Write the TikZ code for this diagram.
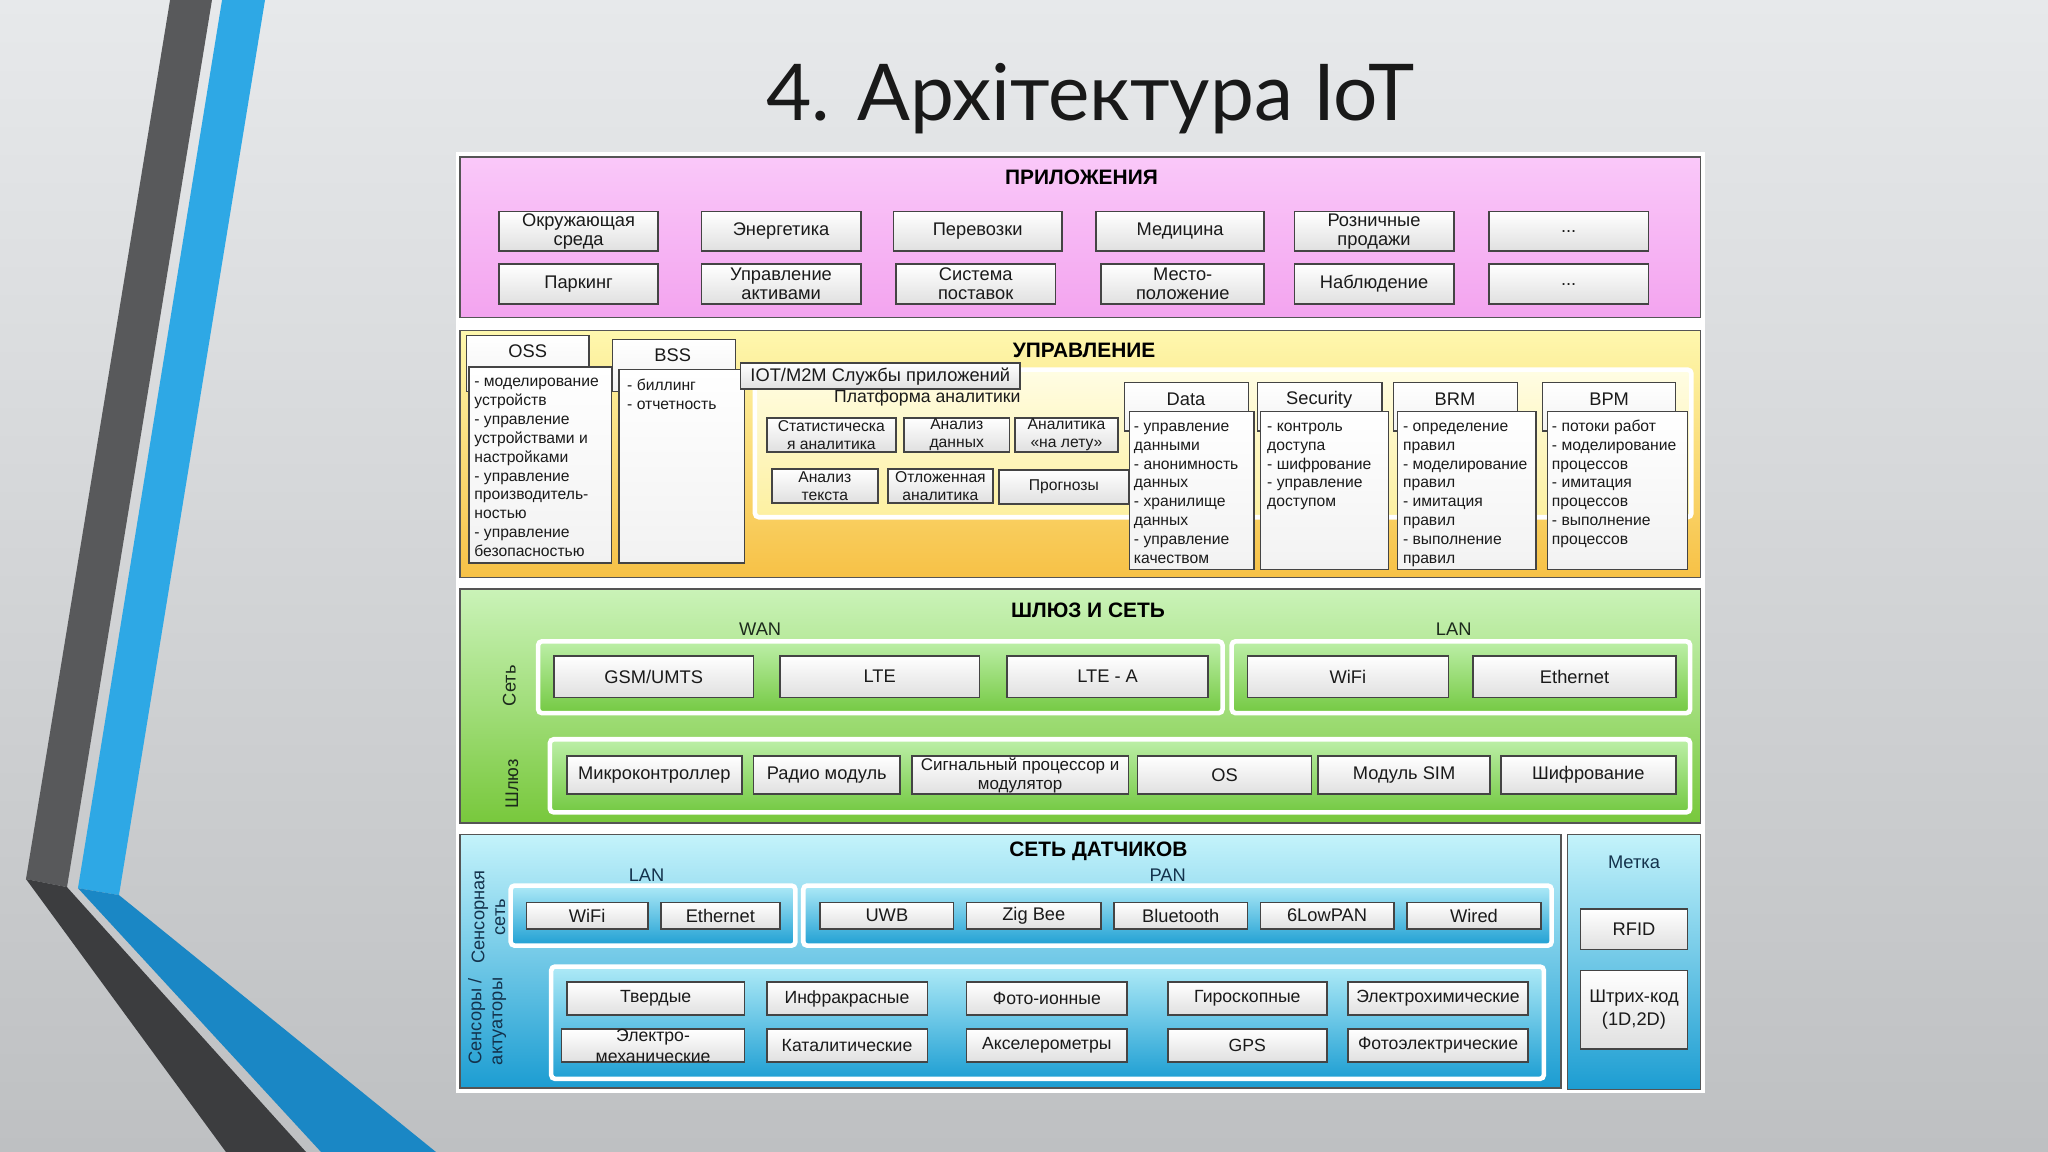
\documentclass[tikz,border=0pt]{standalone}
\usepackage{fontspec}
\setmainfont{Liberation Sans}
\newfontfamily\titlef{Lato}
\definecolor{bgT}{HTML}{E7E9EB}
\definecolor{bgB}{HTML}{BEC0C2}
\definecolor{dkU}{HTML}{58595B}
\definecolor{dkL}{HTML}{3C3D3F}
\definecolor{blU}{HTML}{2EA8E5}
\definecolor{blL}{HTML}{1A87C5}
\definecolor{txt}{HTML}{1A1A1A}
\definecolor{secb}{HTML}{555555}
\definecolor{boxb}{HTML}{444444}
\definecolor{boxbot}{HTML}{E0E0E0}
\definecolor{tabbot}{HTML}{F2F2F2}
\definecolor{pinkT}{HTML}{FAC8F9}
\definecolor{pinkB}{HTML}{F3A4EF}
\definecolor{yelT}{HTML}{FEF8AE}
\definecolor{yelM}{HTML}{FCE57E}
\definecolor{yelB}{HTML}{F7C146}
\definecolor{platT}{HTML}{FFFDE4}
\definecolor{platB}{HTML}{FDF0A0}
\definecolor{grnT}{HTML}{CAF3B8}
\definecolor{grnB}{HTML}{78C83C}
\definecolor{gfT}{HTML}{BDEFA8}
\definecolor{gfB}{HTML}{74C942}
\definecolor{bluT}{HTML}{C4F3FB}
\definecolor{bluB}{HTML}{1C9DD2}
\definecolor{bfT}{HTML}{AEEAF7}
\definecolor{bfB}{HTML}{1F9FD3}
\definecolor{gtxt}{HTML}{1C2A1C}
\definecolor{btxt}{HTML}{14324C}
\tikzset{
  sec/.style={draw=secb, line width=1.2pt},
  bx/.style={draw=boxb, line width=1.3pt, top color=white, bottom color=boxbot},
  frm/.style={draw=white, line width=3.5pt, rounded corners=3pt},
  tabb/.style={draw=boxb, line width=1pt, top color=white, bottom color=tabbot},
  lbl/.style={font=\fontsize{14}{14.5}\selectfont, align=center, inner sep=0pt, text=txt},
  hdr/.style={font=\bfseries\fontsize{16}{18}\selectfont, inner sep=0pt, text=black},
  sublbl/.style={font=\fontsize{14}{16}\selectfont, inner sep=0pt, text=gtxt},
  bsub/.style={font=\fontsize{14}{16}\selectfont, inner sep=0pt, text=btxt, align=center},
  lst/.style={font=\fontsize{12}{14.4}\selectfont, inner sep=0pt, anchor=north west, align=left, text=txt},
  tabt/.style={font=\fontsize{14}{16}\selectfont, inner sep=0pt, text=txt},
}
\newcommand\rbox[6][]{\node[inner sep=0pt,outer sep=0pt,#1,minimum width={#5-#3},minimum height={#6-#4}] (#2) at ({(#3+#5)/2},{(#4+#6)/2}) {};}
\newcommand\bx[7][]{\rbox[bx,#1]{#2}{#3}{#4}{#5}{#6}\node[lbl] (#2t) at (#2.center) {#7};}
\begin{document}
\begin{tikzpicture}[x=1pt,y=-1pt]
\useasboundingbox (0,0) rectangle (1568,882);
\fill[top color=bgT, bottom color=bgB] (0,0) rectangle (1568,882);
% decoration
\fill[dkU] (130.2,0) -- (162.3,0) -- (51.3,679.2) -- (19.9,673) -- cycle;
\fill[dkL] (19.9,673) -- (51.3,679.2) -- (234.3,882) -- (173,882) -- cycle;
\fill[blU] (170,0) -- (202.9,0) -- (91.1,685.3) -- (59.7,680) -- cycle;
\fill[blL] (59.7,680) -- (91.1,685.3) -- (333.8,882) -- (245.8,882) -- cycle;
% title
\node[font=\titlef\fontsize{60}{68}\selectfont, anchor=base, inner sep=0pt, text=black!90] (title) at (835,92) {4. Архітектура IoT};
% diagram background
\fill[white] (349,116) rectangle (1305,837);
% ===== ПРИЛОЖЕНИЯ
\rbox[sec, top color=pinkT, bottom color=pinkB]{app}{352}{120}{1302}{243}
\node[hdr] (appH) at (828,136) {ПРИЛОЖЕНИЯ};
\bx{a1}{382}{162}{504}{192}{Окружающая\\среда}
\bx{a2}{537}{162}{659}{192}{Энергетика}
\bx{a3}{684}{162}{813}{192}{Перевозки}
\bx{a4}{839}{162}{968}{192}{Медицина}
\bx{a5}{991}{162}{1113}{192}{Розничные\\продажи}
\bx{a6}{1140}{162}{1262}{192}{...}
\bx{b1}{382}{202}{504}{233}{Паркинг}
\bx{b2}{537}{202}{659}{233}{Управление\\активами}
\bx{b3}{686}{202}{808}{233}{Система\\поставок}
\bx{b4}{843}{202}{968}{233}{Место-\\положение}
\bx{b5}{991}{202}{1113}{233}{Наблюдение}
\bx{b6}{1140}{202}{1262}{233}{...}
% ===== УПРАВЛЕНИЕ
\rbox[sec, top color=yelT, middle color=yelM, bottom color=yelB]{mgmt}{352}{253}{1302}{442}
\rbox[frm, top color=platT, bottom color=platB]{plat}{578}{283}{1295}{396}
\node[hdr] (mgH) at (830,268) {УПРАВЛЕНИЕ};
% OSS
\rbox[tabb]{ossH}{357}{257}{451}{300}
\node[tabt] (ossHt) at (404,269) {OSS};
\rbox[tabb]{ossC}{359}{281}{468}{431}
\node[lst] (ossL) at (363,286) {\strut- моделирование\\устройств\\- управление\\устройствами и\\настройками\\- управление\\производитель-\\ностью\\- управление\\безопасностью};
% BSS
\rbox[tabb]{bssH}{469}{260}{563}{300}
\node[tabt] (bssHt) at (515,272) {BSS};
\rbox[tabb]{bssC}{474}{283}{570}{431}
\node[lst] (bssL) at (480,289) {\strut- биллинг\\- отчетность};
% IOT/M2M
\bx[draw=boxb]{iot}{567}{278}{781}{298}{IOT/M2M Службы приложений}
\node[lbl, font=\fontsize{13.5}{15}\selectfont] (platT) at (710,305) {Платформа аналитики};
\begin{scope}[lbl/.append style={font=\fontsize{12}{13.5}\selectfont}]
\bx{s1}{587}{320}{686}{346}{Статистическа\\я аналитика}
\bx{s2}{692}{320}{773}{346}{Анализ\\данных}
\bx{s3}{777}{320}{856}{346}{Аналитика\\«на лету»}
\bx{s4}{591}{359}{672}{385}{Анализ\\текста}
\bx{s5}{680}{359}{760}{385}{Отложенная\\аналитика}
\bx{s6}{765}{360}{864}{386}{Прогнозы}
\end{scope}
% Data
\rbox[tabb]{dataH}{861}{293}{956}{330}
\node[tabt] (dataHt) at (908,306) {Data};
\rbox[tabb]{dataC}{865}{315}{960}{436}
\node[lst] (dataL) at (868,320) {\strut- управление\\данными\\- анонимность\\данных\\- хранилище\\данных\\- управление\\качеством};
% Security
\rbox[tabb]{secH}{963}{293}{1058}{330}
\node[tabt] (secHt) at (1010,306) {Security};
\rbox[tabb]{secC}{965}{315}{1063}{436}
\node[lst] (secL) at (970,320) {\strut- контроль\\доступа\\- шифрование\\- управление\\доступом};
% BRM
\rbox[tabb]{brmH}{1067}{293}{1162}{330}
\node[tabt] (brmHt) at (1114,306) {BRM};
\rbox[tabb]{brmC}{1070}{315}{1176}{436}
\node[lst] (brmL) at (1074,320) {\strut- определение\\правил\\- моделирование\\правил\\- имитация\\правил\\- выполнение\\правил};
% BPM
\rbox[tabb]{bpmH}{1181}{293}{1283}{330}
\node[tabt] (bpmHt) at (1232,306) {BPM};
\rbox[tabb]{bpmC}{1185}{315}{1292}{436}
\node[lst] (bpmL) at (1188,320) {\strut- потоки работ\\- моделирование\\процессов\\- имитация\\процессов\\- выполнение\\процессов};
% ===== ШЛЮЗ И СЕТЬ
\rbox[sec, top color=grnT, bottom color=grnB]{gw}{352}{451}{1302}{630}
\node[hdr] (gwH) at (833,467) {ШЛЮЗ И СЕТЬ};
\node[sublbl] (wan) at (582,482) {WAN};
\node[sublbl] (glan) at (1113,482) {LAN};
\node[sublbl, rotate=90] (seti) at (390,525) {Сеть};
\node[sublbl, rotate=90] (shl) at (392,600) {Шлюз};
\rbox[frm, top color=gfT, bottom color=gfB]{wanF}{412}{491}{936}{546}
\rbox[frm, top color=gfT, bottom color=gfB]{lanF}{943}{491}{1294}{546}
\rbox[frm, top color=gfT, bottom color=gfB]{gwF}{421}{566}{1294}{622}
\bx{g1}{424}{502}{577}{534}{GSM/UMTS}
\bx{g2}{597}{502}{750}{534}{LTE}
\bx{g3}{771}{502}{925}{534}{LTE - A}
\bx{g4}{955}{502}{1109}{534}{WiFi}
\bx{g5}{1128}{502}{1283}{534}{Ethernet}
\bx{h1}{434}{579}{568}{608}{Микроконтроллер}
\bx{h2}{577}{579}{689}{608}{Радио модуль}
\begin{scope}[lbl/.append style={font=\fontsize{13}{14.5}\selectfont}]
\bx{h3}{698}{579}{864}{608}{Сигнальный процессор и\\модулятор}
\end{scope}
\bx{h4}{871}{579}{1004}{608}{OS}
\bx{h5}{1009}{579}{1141}{608}{Модуль SIM}
\bx{h6}{1149}{579}{1283}{608}{Шифрование}
% ===== СЕТЬ ДАТЧИКОВ
\rbox[sec, top color=bluT, bottom color=bluB]{sn}{352}{639}{1195}{833}
\rbox[sec, top color=bluT, bottom color=bluB]{tag}{1200}{639}{1302}{834}
\node[hdr] (snH) at (841,652) {СЕТЬ ДАТЧИКОВ};
\node[bsub] (slan) at (495,670) {LAN};
\node[bsub] (span) at (894,670) {PAN};
\node[bsub, rotate=90] (ssens) at (374,702) {Сенсорная\\сеть};
\node[bsub, rotate=90] (sact) at (373,782) {Сенсоры /\\актуаторы};
\node[bsub] (metka) at (1251,660) {Метка};
\bx{rfid}{1210}{696}{1292}{727}{RFID}
\begin{scope}[lbl/.append style={font=\fontsize{14}{17}\selectfont}]
\bx{bar}{1210}{743}{1292}{803}{Штрих-код\\(1D,2D)}
\end{scope}
\rbox[frm, top color=bfT, bottom color=bfB]{slanF}{391}{678}{609}{724}
\rbox[frm, top color=bfT, bottom color=bfB]{spanF}{615}{678}{1188}{724}
\rbox[frm, top color=bfT, bottom color=bfB]{sensF}{422}{740}{1182}{826}
\bx{p1}{403}{691}{496}{711}{WiFi}
\bx{p2}{506}{691}{597}{711}{Ethernet}
\bx{p3}{628}{691}{730}{711}{UWB}
\bx{p4}{740}{691}{843}{711}{Zig Bee}
\bx{p5}{853}{691}{955}{711}{Bluetooth}
\bx{p6}{965}{691}{1067}{711}{6LowPAN}
\bx{p7}{1077}{691}{1180}{711}{Wired}
\begin{scope}[lbl/.append style={font=\fontsize{13.5}{16}\selectfont}]
\bx{r1}{434}{752}{570}{777}{Твердые}
\bx{r2}{587}{752}{710}{777}{Инфракрасные}
\bx{r3}{740}{752}{863}{777}{Фото-ионные}
\bx{r4}{894}{752}{1016}{777}{Гироскопные}
\bx{r5}{1032}{752}{1170}{777}{Электрохимические}
\bx{q1}{430}{788}{570}{813}{Электро-\\механические}
\bx{q2}{587}{788}{710}{813}{Каталитические}
\bx{q3}{740}{788}{863}{813}{Акселерометры}
\bx{q4}{894}{788}{1016}{813}{GPS}
\bx{q5}{1032}{788}{1170}{813}{Фотоэлектрические}
\end{scope}
\end{tikzpicture}
\end{document}
